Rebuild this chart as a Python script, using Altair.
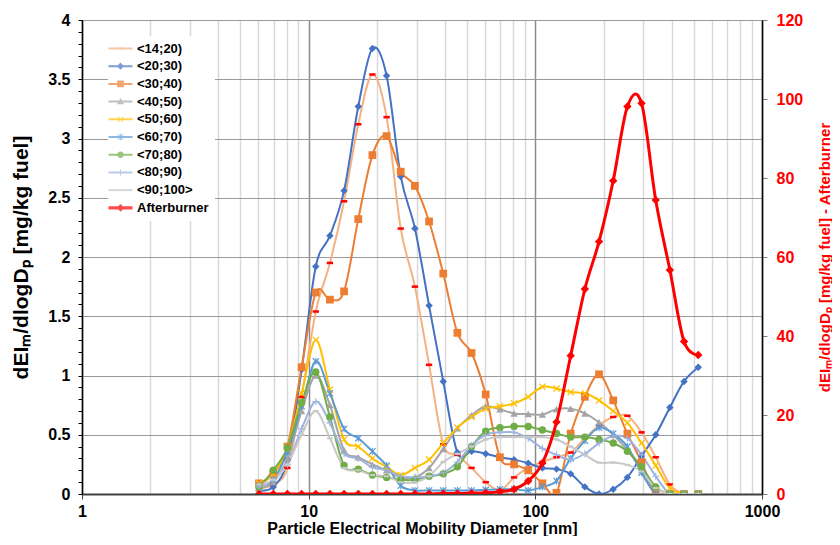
import altair as alt
import pandas as pd

# Particle mobility diameters [nm] (SMPS channels)
x_nm = [6.04, 6.98, 8.06, 9.31, 10.75, 12.41, 14.33, 16.55, 19.11, 22.07, 25.48, 29.43,
        33.98, 39.24, 45.31, 52.32, 60.41, 69.76, 80.56, 93.03, 107.4, 124.0, 143.2, 165.4,
        191.0, 220.6, 254.8, 294.2, 339.7, 392.3, 453.0, 523.3]

s14_20 = [0.05, 0.08, 0.22, 0.82, 1.54, 1.95, 2.47, 3.12, 3.54, 3.18, 2.24, 1.75, 1.09, 0.42, 0.33, 0.22,
          0.10, 0.03, 0.14, 0.22, 0.27, 0.31, 0.35, 0.47, 0.58, 0.65, 0.66, 0.52, 0.31, 0.08, 0.0, 0.0]
s20_30 = [0.03, 0.06, 0.29, 1.05, 1.92, 2.18, 2.56, 3.27, 3.76, 3.53, 2.68, 2.24, 1.59, 0.95, 0.35, 0.36,
          0.34, 0.31, 0.29, 0.26, 0.22, 0.21, 0.17, 0.06, 0.0, 0.04, 0.14, 0.32, 0.50, 0.73, 0.95, 1.07]
s30_40 = [0.09, 0.17, 0.40, 1.07, 1.70, 1.64, 1.71, 2.32, 2.86, 3.02, 2.72, 2.60, 2.30, 1.86, 1.36, 1.19,
          0.84, 0.31, 0.25, 0.20, 0.09, 0.01, 0.51, 0.82, 1.01, 0.79, 0.51, 0.27, 0.0, 0.0, 0.0, 0.0]
s40_50 = [0.05, 0.10, 0.30, 0.70, 1.00, 0.75, 0.37, 0.31, 0.25, 0.20, 0.14, 0.14, 0.22, 0.38, 0.555, 0.665,
          0.74, 0.715, 0.68, 0.675, 0.67, 0.715, 0.72, 0.68, 0.605, 0.50, 0.37, 0.20, 0.0, 0.0, 0.0, 0.0]
s50_60 = [0.09, 0.17, 0.39, 0.85, 1.30, 0.88, 0.46, 0.40, 0.30, 0.23, 0.16, 0.22, 0.29, 0.43, 0.56, 0.65,
          0.72, 0.74, 0.765, 0.82, 0.905, 0.89, 0.86, 0.85, 0.79, 0.70, 0.60, 0.43, 0.24, 0.05, 0.0, 0.0]
s60_70 = [0.07, 0.12, 0.36, 0.74, 1.12, 0.85, 0.55, 0.47, 0.36, 0.24, 0.07, 0.03, 0.03, 0.03, 0.03, 0.03,
          0.035, 0.04, 0.04, 0.03, 0.06, 0.11, 0.30, 0.45, 0.56, 0.51, 0.40, 0.18, 0.0, 0.0, 0.0, 0.0]
s70_80 = [0.06, 0.20, 0.39, 0.77, 1.03, 0.65, 0.24, 0.21, 0.16, 0.14, 0.12, 0.12, 0.15, 0.17, 0.23, 0.40,
          0.53, 0.56, 0.57, 0.57, 0.54, 0.51, 0.48, 0.48, 0.46, 0.43, 0.36, 0.23, 0.06, 0.0, 0.0, 0.0]
s80_90 = [0.06, 0.12, 0.25, 0.55, 0.78, 0.60, 0.34, 0.30, 0.225, 0.20, 0.15, 0.14, 0.15, 0.18, 0.27, 0.41,
          0.50, 0.52, 0.52, 0.47, 0.385, 0.33, 0.29, 0.34, 0.43, 0.49, 0.47, 0.33, 0.15, 0.0, 0.0, 0.0]
s90_100 = [0.08, 0.12, 0.25, 0.50, 0.70, 0.47, 0.22, 0.20, 0.16, 0.15, 0.10, 0.10, 0.15, 0.27, 0.34, 0.40,
           0.46, 0.48, 0.48, 0.48, 0.48, 0.46, 0.40, 0.33, 0.265, 0.265, 0.245, 0.19, 0.05, 0.0, 0.0, 0.0]
afterburner = [0, 0, 0, 0, 0, 0, 0, 0, 0, 0, 0, 0, 0, 0.1, 0.1, 0.2,
               0.3, 0.6, 1.2, 3.3, 7.8, 18.2, 35.0, 51.9, 63.9, 79.3, 98.1, 98.9, 74.4, 56.7, 38.6, 35.2]

names = ["<14;20)", "<20;30)", "<30;40)", "<40;50)", "<50;60)", "<60;70)", "<70;80)",
         "<80;90)", "<90;100>", "Afterburner"]
left_series = [s14_20, s20_30, s30_40, s40_50, s50_60, s60_70, s70_80, s80_90, s90_100]
line_colors = ["#F4B183", "#4472C4", "#ED7D31", "#A5A5A5", "#FFC000", "#5B9BD5", "#70AD47",
               "#9DB3E0", "#C9C9C9", "#FF0000"]
marker_colors = ["#FF0000", "#4472C4", "#ED7D31", "#A5A5A5", "#FFC000", "#5B9BD5", "#70AD47",
                 "#9DB3E0", "#C9C9C9", "#FF0000"]

DASH = "M-1,-0.4H1V0.4H-1Z"
XSH = ("M-1,-0.75L-0.75,-1L0,-0.25L0.75,-1L1,-0.75L0.25,0L1,0.75L0.75,1L0,0.25"
       "L-0.75,1L-1,0.75L-0.25,0Z")
STAR = XSH + " M-0.15,-1H0.15V1H-0.15Z"
PLUS = "M-1,-0.15H1V0.15H-1Z M-0.15,-1H0.15V1H-0.15Z"
marker_shapes = [DASH, "diamond", "square", "triangle-up", XSH, STAR, "circle", PLUS, DASH, "diamond"]
marker_sizes = [40, 55, 60, 55, 50, 50, 55, 50, 30, 70]

# legend symbols: line + marker (unit = sqrt(size)/2 px)
LINE = "M-2,-0.17H2V0.17H-2Z"
SX = "M-0.5,-0.4L-0.4,-0.5L0,-0.1L0.4,-0.5L0.5,-0.4L0.1,0L0.5,0.4L0.4,0.5L0,0.1L-0.4,0.5L-0.5,0.4L-0.1,0Z"
legend_shapes = [
    LINE + " M-0.5,-0.2H0.5V0.2H-0.5Z",
    LINE + " M0,-0.6L0.6,0L0,0.6L-0.6,0Z",
    LINE + " M-0.55,-0.55H0.55V0.55H-0.55Z",
    LINE + " M0,-0.6L0.6,0.45H-0.6Z",
    LINE + " " + SX,
    LINE + " " + SX + " M-0.08,-0.55H0.08V0.55H-0.08Z",
    LINE + " M-0.55,0A0.55,0.55 0 1,1 0.55,0A0.55,0.55 0 1,1 -0.55,0Z",
    LINE + " M-0.08,-0.5H0.08V0.5H-0.08Z",
    LINE,
    "M-2,-0.27H2V0.27H-2Z M0,-0.65L0.65,0L0,0.65L-0.65,0Z",
]

rows = []
for name, vals, lc in zip(names[:9], left_series, line_colors[:9]):
    for d, v in zip(x_nm, vals):
        rows.append({"series": name, "d": d, "v": v, "lcolor": lc})
left = pd.DataFrame(rows)
right = pd.DataFrame({"series": "Afterburner", "d": x_nm, "v": afterburner})

FONT = "Liberation Sans"
is_dec = "abs(log(datum.value)/LN10 - round(log(datum.value)/LN10)) < 0.001"
is_half = "abs(datum.value*2 - round(datum.value*2)) < 0.001"

xvals = [1, 2, 3, 4, 5, 6, 7, 8, 9, 10, 20, 30, 40, 50, 60, 70, 80, 90,
         100, 200, 300, 400, 500, 600, 700, 800, 900, 1000]
yvals = [i / 10 for i in range(41)]

xenc = alt.X("d:Q", scale=alt.Scale(type="log", domain=[1, 1000], nice=False),
             axis=alt.Axis(values=xvals, title="Particle Electrical Mobility Diameter [nm]",
                           labelExpr=f"({is_dec}) ? format(datum.value, 'd') : ''",
                           gridColor={"condition": {"test": is_dec, "value": "#8c8c8c"}, "value": "#d9d9d9"},
                           gridWidth=1.5,
                           tickSize={"condition": {"test": is_dec, "value": 5}, "value": 0},
                           tickColor="#404040",
                           domainColor="#404040", domainWidth=2,
                           labelFont=FONT, labelFontSize=16, labelFontWeight="bold", labelColor="black",
                           labelPadding=4, labelFlush=False,
                           titleFont=FONT, titleFontSize=16, titleFontWeight="bold", titleColor="black",
                           titlePadding=1))

yleft = alt.Y("v:Q", scale=alt.Scale(domain=[0, 4], nice=False),
              axis=alt.Axis(values=yvals, title="dEIₘ/dlogDₚ [mg/kg fuel]",
                            labelExpr=f"({is_half}) ? format(datum.value, '') : ''",
                            gridColor="#9a9a9a", gridWidth=1,
                            gridOpacity={"condition": {"test": is_half, "value": 1}, "value": 0},
                            tickSize=4, tickColor="black", domainColor="black", domainWidth=1.5,
                            labelFont=FONT, labelFontSize=16, labelFontWeight="bold", labelColor="black",
                            labelPadding=8,
                            titleFont=FONT, titleFontSize=21, titleFontWeight="bold", titleColor="black",
                            titlePadding=16))

color_scale = alt.Scale(domain=names, range=line_colors)
legend = alt.Legend(orient="none", legendX=26, legendY=16, title=None, fillColor="white",
                    labelFont=FONT, labelFontSize=13, labelFontWeight="bold", labelColor="black",
                    symbolSize=144, symbolStrokeWidth=0, labelOffset=10,
                    rowPadding=3.7, padding=6)

lines = alt.Chart(left).mark_line(interpolate="cardinal", strokeWidth=2, clip=True).encode(
    x=xenc, y=yleft,
    stroke=alt.Stroke("lcolor:N", scale=None),
    detail="series:N")

point_layers = []
for name, mc, ms, sz in zip(names[:9], marker_colors[:9], marker_shapes[:9], marker_sizes[:9]):
    point_layers.append(
        alt.Chart(left).transform_filter(alt.datum.series == name)
        .mark_point(filled=True, opacity=1, clip=True, shape=ms, size=sz, fill=mc, strokeWidth=0)
        .encode(x=xenc, y=yleft))

# hidden layer that only carries the legend (pushed outside the clipped plot area)
leg = alt.Chart(left).mark_point(filled=True, clip=True).encode(
    x=xenc, y=yleft, yOffset=alt.value(3000),
    color=alt.Color("series:N", scale=color_scale, legend=legend),
    shape=alt.Shape("series:N", scale=alt.Scale(domain=names, range=legend_shapes), legend=legend))

yright = alt.Y("v:Q", scale=alt.Scale(domain=[0, 120], nice=False),
               axis=alt.Axis(orient="right", values=[0, 20, 40, 60, 80, 100, 120],
                             title="dEIₘ/dlogDₚ [mg/kg fuel] - Afterburner",
                             grid=False, tickSize=5, tickColor="#808080",
                             domainColor="black", domainWidth=1.5,
                             labelFont=FONT, labelFontSize=16, labelFontWeight="bold", labelColor="#FF0000",
                             labelPadding=9,
                             titleFont=FONT, titleFontSize=15, titleFontWeight="bold", titleColor="#FF0000",
                             titleAngle=270, titlePadding=30))

red_line = alt.Chart(right).mark_line(interpolate="cardinal", strokeWidth=3, clip=True,
                                      color="#FF0000").encode(x=xenc, y=yright)
red_pts = alt.Chart(right).mark_point(filled=True, opacity=1, shape="diamond", size=70,
                                      color="#FF0000", clip=True).encode(x=xenc, y=yright)

chart = alt.layer(
    alt.layer(lines, *point_layers, leg),
    alt.layer(red_line, red_pts),
).resolve_scale(y="independent").properties(
    width=680, height=474,
    padding={"left": 74, "top": 12, "right": 70, "bottom": 42},
    autosize=alt.AutoSizeParams(type="none"),
).configure(font=FONT).configure_view(stroke="black", strokeWidth=1)

chart.save("out.html", embed_options={"renderer": "svg", "actions": False})
